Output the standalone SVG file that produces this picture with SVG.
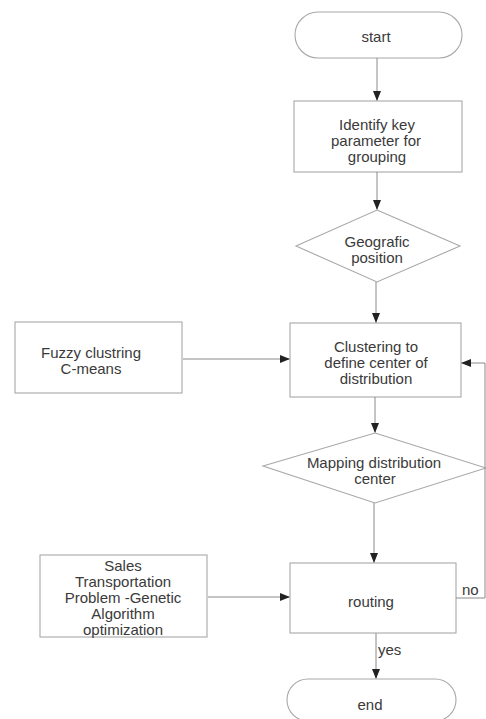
<svg xmlns="http://www.w3.org/2000/svg" width="486" height="719" viewBox="0 0 486 719">
<style>
.s{fill:none;stroke:#a8a8a8;stroke-width:1.1}
.c{fill:none;stroke:#8a8a8a;stroke-width:1}
text{font-family:"Liberation Sans",Arial,sans-serif;font-size:15px;fill:#3a3a3a;text-anchor:middle}
</style>
<defs>
<marker id="a" markerWidth="10" markerHeight="8" refX="9" refY="4" orient="auto" markerUnits="userSpaceOnUse">
<path d="M0,0 L10,4 L0,8 Z" fill="#222"/>
</marker>
</defs>
<rect width="486" height="719" fill="#fff"/>
<g id="start"><rect class="s" x="295" y="12" width="167" height="46" rx="23"/><text x="376" y="42">start</text></g>
<g id="identify"><rect class="s" x="294" y="101" width="168" height="71"/><text x="377" y="130">Identify key</text><text x="376" y="146">parameter for</text><text x="377" y="162">grouping</text></g>
<g id="geografic"><polygon class="s" points="377,210 460,246 377,282 296,246"/><text x="377" y="247">Geografic</text><text x="377" y="263">position</text></g>
<g id="clustering"><rect class="s" x="290" y="323" width="171" height="74"/><text x="376" y="352">Clustering to</text><text x="376" y="368">define center of</text><text x="376" y="384">distribution</text></g>
<g id="fuzzy"><rect class="s" x="15" y="322" width="167" height="71"/><text x="91" y="358">Fuzzy clustring</text><text x="91" y="374">C-means</text></g>
<g id="mapping"><polygon class="s" points="375,433 486,468 375,503 263,466"/><text x="374" y="468">Mapping distribution</text><text x="375" y="484">center</text></g>
<g id="routing"><rect class="s" x="290" y="563" width="166" height="70"/><text x="371" y="607">routing</text></g>
<g id="sales"><rect class="s" x="40" y="555" width="167" height="82"/><text x="123" y="571">Sales</text><text x="123" y="587">Transportation</text><text x="123" y="603">Problem  -Genetic</text><text x="123" y="619">Algorithm</text><text x="123" y="635">optimization</text></g>
<g id="end"><rect class="s" x="287" y="679" width="169" height="42" rx="21"/><text x="370" y="710">end</text></g>
<g id="connectors">
<line class="c" x1="377" y1="58" x2="377" y2="100" marker-end="url(#a)"/>
<line class="c" x1="377" y1="172" x2="377" y2="209" marker-end="url(#a)"/>
<line class="c" x1="376" y1="282" x2="376" y2="322" marker-end="url(#a)"/>
<line class="c" x1="183" y1="359" x2="289" y2="359" marker-end="url(#a)"/>
<line class="c" x1="375" y1="397" x2="375" y2="432" marker-end="url(#a)"/>
<line class="c" x1="374" y1="503" x2="374" y2="562" marker-end="url(#a)"/>
<line class="c" x1="208" y1="597" x2="289" y2="597" marker-end="url(#a)"/>
<polyline class="c" points="456,598 485,598 485,363 462,363" marker-end="url(#a)"/>
<line class="c" x1="376" y1="633" x2="376" y2="678" marker-end="url(#a)"/>
<text x="462" y="595" style="text-anchor:start">no</text>
<text x="378" y="655" style="text-anchor:start">yes</text>
</g>
</svg>
